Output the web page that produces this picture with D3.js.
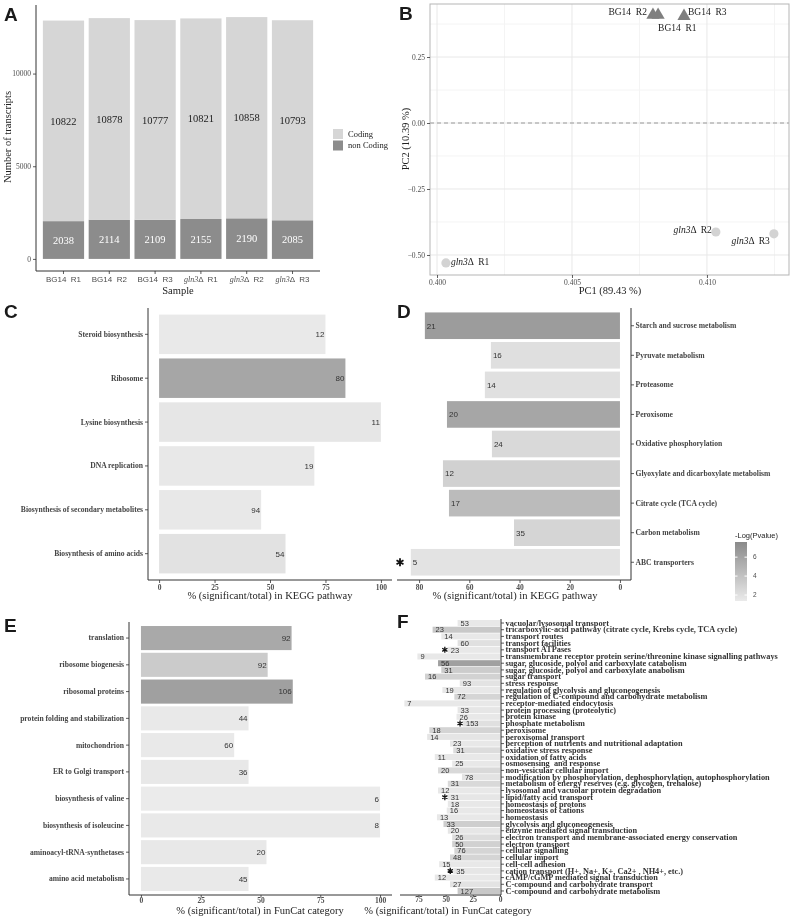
<!DOCTYPE html>
<html><head><meta charset="utf-8">
<script src="https://cdn.jsdelivr.net/npm/d3@7"></script>
<style>body{margin:0;background:#fff} svg{will-change:transform} text{white-space:pre}</style>
</head><body><svg id="c" width="790" height="918"></svg>
<script>
// ---------- Panel A data ----------
const samples = ["BG14  R1","BG14  R2","BG14  R3","gln3Δ  R1","gln3Δ  R2","gln3Δ  R3"];
const coding = [10822,10878,10777,10821,10858,10793];
const nonCoding = [2038,2114,2109,2155,2190,2085];
const aYTicks = [0,5000,10000];
const aLegend = ["Coding","non Coding"];
// ---------- Panel B data ----------
const pcaLabels = ["BG14  R1","BG14  R2","BG14  R3","gln3Δ  R1","gln3Δ  R2","gln3Δ  R3"];
const pc1 = [0.40819,0.40800,0.40915,0.40033,0.41033,0.41248];
const pc2 = [0.409,0.409,0.405,-0.530,-0.413,-0.420];
const pcaGroup = ["BG14","BG14","BG14","gln3","gln3","gln3"];
const bXTicks = [0.400,0.405,0.410];
const bYTicks = [-0.50,-0.25,0.00,0.25];
// ---------- Panel C data ----------
const cCats = ["Steroid biosynthesis","Ribosome","Lysine biosynthesis","DNA replication","Biosynthesis of secondary metabolites","Biosynthesis of amino acids"];
const cPct = [75,84,100,70,46,57];
const cCount = [12,80,11,19,94,54];
const cLogP = [1.4,5.8,1.6,1.5,1.5,1.9];
const cXTicks = [0,25,50,75,100];
// ---------- Panel D data ----------
const dCats = ["Starch and sucrose metabolism","Pyruvate metabolism","Proteasome","Peroxisome","Oxidative phosphorylation","Glyoxylate and dicarboxylate metabolism","Citrate cycle (TCA cycle)","Carbon metabolism","ABC transporters"];
const dPct = [77.7,51.4,53.8,68.9,51,70.5,68.1,42.2,83.3];
const dCount = [21,16,14,20,24,12,17,35,5];
const dLogP = [6.4,2.1,2.0,5.8,2.5,3.0,4.4,2.7,1.8];
const dStar = ["ABC transporters"];
const dXTicks = [0,20,40,60,80];
const legendTicks = [2,4,6];
// ---------- Panel E data ----------
const eCats = ["translation","ribosome biogenesis","ribosomal proteins","protein folding and stabilization","mitochondrion","ER to Golgi transport","biosynthesis of valine","biosynthesis of isoleucine","aminoacyl-tRNA-synthetases","amino acid metabolism"];
const ePct = [63,53,63.5,45,39,45,100,100,52.5,45];
const eCount = [92,92,106,44,60,36,6,8,20,45];
const eLogP = [5.6,3.4,6.2,1.4,1.4,1.5,1.3,1.4,1.5,1.4];
const eXTicks = [0,25,50,75,100];
// ---------- Panel F data ----------
const fCats = ["vacuolar/lysosomal transport","tricarboxylic-acid pathway (citrate cycle, Krebs cycle, TCA cycle)","transport routes","transport facilities","transport ATPases","transmembrane receptor protein serine/threonine kinase signalling pathways","sugar, glucoside, polyol and carboxylate catabolism","sugar, glucoside, polyol and carboxylate anabolism","sugar transport","stress response","regulation of glycolysis and gluconeogenesis","regulation of C-compound and carbohydrate metabolism","receptor-mediated endocytosis","protein processing (proteolytic)","protein kinase","phosphate metabolism","peroxisome","peroxisomal transport","perception of nutrients and nutritional adaptation","oxidative stress response","oxidation of fatty acids","osmosensing  and response","non-vesicular cellular import","modification by phosphorylation, dephosphorylation, autophosphorylation","metabolism of energy reserves (e.g. glycogen, trehalose)","lysosomal and vacuolar protein degradation","lipid/fatty acid transport","homeostasis of protons","homeostasis of cations","homeostasis","glycolysis and gluconeogenesis","enzyme mediated signal transduction","electron transport and membrane-associated energy conservation","electron transport","cellular signalling","cellular import","cell-cell adhesion","cation transport (H+, Na+, K+, Ca2+ , NH4+, etc.)","cAMP/cGMP mediated signal transduction","C-compound and carbohydrate transport","C-compound and carbohydrate metabolism"];
const fPct = [39,62,54,39,48,76,57,54,69,37,53,42,88,39,40,34,65,67,46,43,60,44,57,35,48,57,48,48,49,58,52,48,44,44,42,46,56,43,60,46,39];
const fCount = [53,23,14,60,23,9,56,31,16,93,19,72,7,33,26,153,18,14,23,31,11,25,20,78,31,12,31,18,16,13,33,20,26,50,76,48,15,35,12,27,127];
const fLogP = [1.5,3.6,1.5,2.0,1.5,1.5,6.2,3.3,2.9,1.8,1.5,2.7,1.5,1.6,1.5,2.0,2.8,1.7,1.5,2.3,1.5,1.5,2.5,1.8,2.5,1.5,1.6,1.5,1.5,1.5,3.2,1.6,2.2,3.0,2.7,2.7,1.5,1.6,1.5,1.8,3.6];
const fStar = ["transport ATPases","phosphate metabolism","lipid/fatty acid transport","cation transport (H+, Na+, K+, Ca2+ , NH4+, etc.)"];
const fXTicks = [0,25,50,75];

// ---------- drawing ----------
const svg = d3.select("#c");
const SERIF = "'Liberation Serif','Times New Roman',serif";
const SANS = "'Liberation Sans',Arial,sans-serif";
const fillScale = d3.scaleLinear().domain([1.3,7.6]).range(["#ebebeb","#8a8a8a"]);

function ggBand(domain, a0, a1){
  const step=(a1-a0)/(domain.length+0.2);
  return d3.scaleBand().domain(domain).range([a0+0.1*step, a1-0.1*step]).paddingInner(0.1).paddingOuter(0.05);
}
function richGln(sel, family, size, restFamily){
  sel.each(function(d){
    const t=d3.select(this); const s = typeof d==="string"?d:t.text();
    t.text(null);
    if(s.startsWith("gln3")){
      t.append("tspan").attr("font-style","italic").attr("font-family",SERIF).text("gln3");
      t.append("tspan").attr("font-family",restFamily||family).text(s.slice(4));
    } else t.append("tspan").text(s);
  });
}
function styleAxis(g, color){
  g.select(".domain").remove();
  g.selectAll(".tick line").attr("stroke","#333").attr("stroke-width",0.8);
  g.selectAll(".tick text").attr("fill",color||"#4d4d4d");
}
function letter(txt,x,y){
  svg.append("text").attr("x",x).attr("y",y).attr("font-family",SANS).attr("font-weight","bold").attr("font-size",19).attr("fill","#1a1a1a").text(txt);
}

// ===== Panel A =====
(function(){
  const g=svg.append("g");
  const x=ggBand(samples,36,320);
  const y=d3.scaleLinear().domain([-652,13700]).range([271,5]);
  g.selectAll("rect.nc").data(samples).join("rect").attr("class","nc")
    .attr("x",d=>x(d)).attr("width",x.bandwidth())
    .attr("y",(d,i)=>y(nonCoding[i])).attr("height",(d,i)=>y(0)-y(nonCoding[i])).attr("fill","#8c8c8c");
  g.selectAll("rect.cd").data(samples).join("rect").attr("class","cd")
    .attr("x",d=>x(d)).attr("width",x.bandwidth())
    .attr("y",(d,i)=>y(nonCoding[i]+coding[i])).attr("height",(d,i)=>y(nonCoding[i])-y(nonCoding[i]+coding[i])).attr("fill","#d6d6d6");
  g.selectAll("text.cd").data(samples).join("text").attr("class","cd")
    .attr("x",d=>x(d)+x.bandwidth()/2).attr("y",(d,i)=>y(nonCoding[i]+coding[i]/2)).attr("dy","0.35em")
    .attr("text-anchor","middle").attr("font-family",SERIF).attr("font-size",10.5).attr("fill","#222").text((d,i)=>coding[i]);
  g.selectAll("text.nc").data(samples).join("text").attr("class","nc")
    .attr("x",d=>x(d)+x.bandwidth()/2).attr("y",(d,i)=>y(nonCoding[i]/2)).attr("dy","0.35em")
    .attr("text-anchor","middle").attr("font-family",SERIF).attr("font-size",10.5).attr("fill","#fff").text((d,i)=>nonCoding[i]);
  g.append("line").attr("x1",36).attr("x2",36).attr("y1",5).attr("y2",271).attr("stroke","#333");
  g.append("line").attr("x1",36).attr("x2",320).attr("y1",271).attr("y2",271).attr("stroke","#333");
  const ay=g.append("g").attr("transform","translate(36,0)").call(d3.axisLeft(y).tickValues(aYTicks).tickFormat(d3.format("d")).tickSize(3).tickPadding(2));
  styleAxis(ay); ay.selectAll("text").attr("font-family",SERIF).attr("font-size",7.5);
  const ax=g.append("g").attr("transform","translate(0,271)").call(d3.axisBottom(x).tickSize(3).tickPadding(2));
  styleAxis(ax); ax.selectAll("text").attr("font-family",SANS).attr("font-size",8);
  richGln(ax.selectAll(".tick text"),SANS,8,SANS);
  g.append("text").attr("x",178).attr("y",294).attr("text-anchor","middle").attr("font-family",SERIF).attr("font-size",10.5).attr("fill","#222").text("Sample");
  g.append("text").attr("transform","translate(11,137) rotate(-90)").attr("text-anchor","middle").attr("font-family",SERIF).attr("font-size",10.5).attr("fill","#222").text("Number of transcripts");
  const lc=["#d6d6d6","#8c8c8c"];
  aLegend.forEach((t,i)=>{
    g.append("rect").attr("x",333).attr("y",129+i*11.5).attr("width",10).attr("height",10).attr("fill",lc[i]);
    g.append("text").attr("x",348).attr("y",134+i*11.5).attr("dy","0.35em").attr("font-family",SERIF).attr("font-size",8.5).attr("fill","#222").text(t);
  });
  letter("A",4,21);
})();

// ===== Panel B =====
(function(){
  const g=svg.append("g");
  const x=d3.scaleLinear().domain([0.39974,0.41304]).range([430,789]);
  const y=d3.scaleLinear().domain([-0.5758,0.4508]).range([275,4]);
  g.append("rect").attr("x",430).attr("y",4).attr("width",359).attr("height",271).attr("fill","#fff");
  const xMinor=[0.4025,0.4075,0.4125], yMinor=[-0.375,-0.125,0.125,0.375];
  g.selectAll("line.xm").data(xMinor).join("line").attr("x1",d=>x(d)).attr("x2",d=>x(d)).attr("y1",4).attr("y2",275).attr("stroke","#f4f4f4");
  g.selectAll("line.ym").data(yMinor).join("line").attr("y1",d=>y(d)).attr("y2",d=>y(d)).attr("x1",430).attr("x2",789).attr("stroke","#f4f4f4");
  g.selectAll("line.xg").data(bXTicks).join("line").attr("x1",d=>x(d)).attr("x2",d=>x(d)).attr("y1",4).attr("y2",275).attr("stroke","#e8e8e8");
  g.selectAll("line.yg").data(bYTicks).join("line").attr("y1",d=>y(d)).attr("y2",d=>y(d)).attr("x1",430).attr("x2",789).attr("stroke","#e8e8e8");
  g.append("line").attr("x1",430).attr("x2",789).attr("y1",y(0)).attr("y2",y(0)).attr("stroke","#9a9a9a").attr("stroke-dasharray","4,3");
  g.append("rect").attr("x",430).attr("y",4).attr("width",359).attr("height",271).attr("fill","none").attr("stroke","#b5b5b5");
  const ax=g.append("g").attr("transform","translate(0,275)").call(d3.axisBottom(x).tickValues(bXTicks).tickFormat(d3.format(".3f")).tickSize(3).tickPadding(2));
  styleAxis(ax); ax.selectAll("text").attr("font-family",SERIF).attr("font-size",7.5);
  const ay=g.append("g").attr("transform","translate(430,0)").call(d3.axisLeft(y).tickValues(bYTicks).tickFormat(d3.format(".2f")).tickSize(3).tickPadding(2));
  styleAxis(ay); ay.selectAll("text").attr("font-family",SERIF).attr("font-size",7.5);
  const idx=d3.range(pc1.length);
  g.selectAll("path.tri").data(idx.filter(i=>pcaGroup[i]==="BG14")).join("path")
    .attr("transform",i=>`translate(${x(pc1[i])},${y(pc2[i])})`).attr("d",d3.symbol(d3.symbolTriangle,75)).attr("fill","#7f7f7f");
  g.selectAll("circle.pt").data(idx.filter(i=>pcaGroup[i]==="gln3")).join("circle")
    .attr("cx",i=>x(pc1[i])).attr("cy",i=>y(pc2[i])).attr("r",4.6).attr("fill","#d3d3d3");
  const lab=[{a:"start",dx:0,dy:13},{a:"end",dx:-6,dy:-3},{a:"start",dx:4,dy:-4},{a:"start",dx:5,dy:-1},{a:"end",dx:-4,dy:-2},{a:"end",dx:-4,dy:7}];
  g.selectAll("text.pl").data(idx).join("text").attr("class","pl")
    .attr("x",i=>x(pc1[i])+lab[i].dx).attr("y",i=>y(pc2[i])+lab[i].dy).attr("dy","0.35em")
    .attr("text-anchor",i=>lab[i].a).attr("font-family",SERIF).attr("font-size",9.5).attr("fill","#222")
    .text(i=>pcaLabels[i]).call(s=>richGln(s.each(function(i){d3.select(this).datum(pcaLabels[i]);}),SERIF,9.5,SERIF));
  g.append("text").attr("x",610).attr("y",294).attr("text-anchor","middle").attr("font-family",SERIF).attr("font-size",10.5).attr("fill","#222").text("PC1 (89.43 %)");
  g.append("text").attr("transform","translate(409,139) rotate(-90)").attr("text-anchor","middle").attr("font-family",SERIF).attr("font-size",10.5).attr("fill","#222").text("PC2 (10.39 %)");
  letter("B",399,20);
})();

// ===== horizontal bar panels =====
function hbar(o){
  const g=svg.append("g");
  const y=ggBand(o.cats,o.y0,o.y1);
  const x=d3.scaleLinear().domain(o.xDomain).range(o.xRange);
  const x0=x(0);
  g.selectAll("rect").data(o.cats).join("rect")
    .attr("x",(d,i)=>Math.min(x0,x(o.pct[i]))).attr("width",(d,i)=>Math.abs(x(o.pct[i])-x0))
    .attr("y",d=>y(d)).attr("height",y.bandwidth()).attr("fill",(d,i)=>fillScale(o.logp[i]));
  g.selectAll("text.v").data(o.cats).join("text").attr("class","v")
    .attr("x",(d,i)=>x(o.pct[i])+(o.right?o.vdx:-1)).attr("y",d=>y(d)+y.bandwidth()/2).attr("dy","0.36em")
    .attr("text-anchor",o.right?"start":"end").attr("font-family",SANS).attr("font-size",o.vsize).attr("fill","#333")
    .text((d,i)=>o.count[i]);
  if(o.stars){
    g.selectAll("path.st").data(o.cats.filter(c=>o.stars.includes(c))).join("path")
      .attr("transform",d=>{const i=o.cats.indexOf(d); const sx = o.starX!=null?o.starX:x(o.pct[i])-o.starOff; return `translate(${sx},${y(d)+y.bandwidth()/2})`;})
      .attr("d",d3.symbol(d3.symbolAsterisk,o.starSize)).attr("stroke","#111").attr("stroke-width",o.starW).attr("fill","none");
  }
  const ax0=Math.min(...o.xRange), ax1=Math.max(...o.xRange);
  const yAxisX = o.right? o.axisX : ax0;
  g.append("line").attr("x1",yAxisX).attr("x2",yAxisX).attr("y1",o.y0).attr("y2",o.y1).attr("stroke","#333");
  g.append("line").attr("x1",ax0).attr("x2",o.right?o.axisX:ax1).attr("y1",o.y1).attr("y2",o.y1).attr("stroke","#333");
  const ay=g.append("g").attr("transform",`translate(${yAxisX},0)`).call((o.right?d3.axisRight(y):d3.axisLeft(y)).tickSize(o.tick).tickPadding(o.pad));
  styleAxis(ay,o.labColor); ay.selectAll("text").attr("font-family",SERIF).attr("font-weight","bold").attr("font-size",o.lsize);
  const axb=g.append("g").attr("transform",`translate(0,${o.y1})`).call(d3.axisBottom(x).tickValues(o.xTicks).tickSize(o.btick).tickPadding(o.bpad));
  styleAxis(axb); axb.selectAll("text").attr("font-family",SERIF).attr("font-weight","bold").attr("font-size",7.5);
  g.append("text").attr("x",o.titleX).attr("y",o.titleY).attr("text-anchor","middle").attr("font-family",SERIF).attr("font-size",10.5).attr("fill","#222").text(o.title);
  return {g,x,y};
}

hbar({cats:cCats,pct:cPct,count:cCount,logp:cLogP,y0:308,y1:580,xDomain:[-5,105],xRange:[148,392],xTicks:cXTicks,btick:3,bpad:1.5,
  right:false,tick:3,pad:2,lsize:7.6,vsize:8,labColor:"#444",title:"% (significant/total) in KEGG pathway",titleX:270,titleY:599});
letter("C",4,318);

hbar({cats:dCats,pct:dPct,count:dCount,logp:dLogP,y0:308,y1:580,xDomain:[88.8,-4.4],xRange:[397,631],xTicks:dXTicks,btick:3,bpad:1.5,
  right:true,axisX:631,vdx:2,tick:3,pad:1.5,lsize:7.6,vsize:8,labColor:"#444",stars:dStar,starX:400,starSize:45,starW:1.8,
  title:"% (significant/total) in KEGG pathway",titleX:515,titleY:599});
letter("D",397,318);
(function(){
  const g=svg.append("g");
  const ly=d3.scaleLinear().domain([1.37,7.6]).range([601,542]);
  const defs=svg.append("defs");
  const grad=defs.append("linearGradient").attr("id","lg").attr("x1",0).attr("x2",0).attr("y1",1).attr("y2",0);
  d3.range(0,1.01,0.1).forEach(t=>{const v=1.37+t*(7.6-1.37); grad.append("stop").attr("offset",t).attr("stop-color",fillScale(v));});
  g.append("rect").attr("x",735).attr("y",542).attr("width",12).attr("height",59).attr("fill","url(#lg)");
  legendTicks.forEach(v=>{
    g.append("line").attr("x1",735).attr("x2",737.5).attr("y1",ly(v)).attr("y2",ly(v)).attr("stroke","#fff");
    g.append("line").attr("x1",744.5).attr("x2",747).attr("y1",ly(v)).attr("y2",ly(v)).attr("stroke","#fff");
    g.append("text").attr("x",753).attr("y",ly(v)).attr("dy","0.35em").attr("font-family",SANS).attr("font-size",6.5).attr("fill","#4d4d4d").text(v);
  });
  g.append("text").attr("x",735).attr("y",535).attr("dy","0.35em").attr("font-family",SANS).attr("font-size",7.5).attr("fill","#222").text("-Log(Pvalue)");
})();

hbar({cats:eCats,pct:ePct,count:eCount,logp:eLogP,y0:622,y1:895,xDomain:[-5,105],xRange:[129,392],xTicks:eXTicks,btick:2.5,bpad:0.5,
  right:false,tick:3,pad:2,lsize:7.6,vsize:8,labColor:"#444",title:"% (significant/total) in FunCat category",titleX:260,titleY:914});
letter("E",4,632);

hbar({cats:fCats,pct:fPct,count:fCount,logp:fLogP,y0:619,y1:895,xDomain:[92,0],xRange:[400,500],xTicks:fXTicks,btick:2,bpad:0,
  right:true,axisX:501,vdx:3,tick:3,pad:1.5,lsize:8.3,vsize:7.5,labColor:"#333",stars:fStar,starOff:3,starSize:25,starW:1.3,
  title:"% (significant/total) in FunCat category",titleX:448,titleY:914});
letter("F",397,628);
</script>
</body></html>
